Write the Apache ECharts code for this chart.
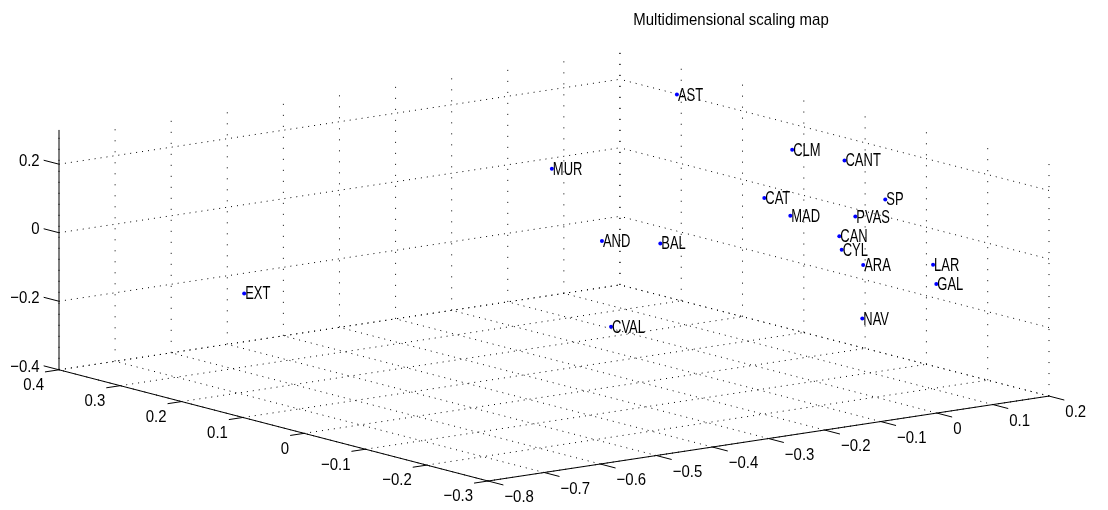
<!DOCTYPE html>
<html><head><meta charset="utf-8">
<script src="https://cdn.jsdelivr.net/npm/echarts@6/dist/echarts.min.js"></script>
<style>html,body{margin:0;padding:0;background:#fff}#chart{width:1108px;height:510px}</style>
</head><body><div id="chart"></div>
<script>
// ---- data (3-D MDS coordinates) ----
const regions = ['AST','CLM','MUR','CAT','MAD','AND','BAL','CVAL','CANT','SP','PVAS','CAN','CYL','ARA','LAR','GAL','NAV','EXT'];
const dim1 = [0.083, 0.070, 0.024, -0.089, 0.012, 0.004, -0.329, -0.089, 0.054, 0.072, -0.036, 0.154, 0.049, -0.022, 0.048, 0.163, -0.111, -0.754];
const dim2 = [0.200, 0.000, 0.350, -0.100, -0.050, 0.250, -0.150, 0.150, -0.100, -0.150, -0.200, 0.000, -0.100, -0.200, -0.250, -0.150, -0.280, 0.140];
const dim3 = [0.277, 0.212, 0.006, 0.157, 0.057, -0.154, 0.107, -0.335, 0.231, 0.136, 0.136, -0.061, -0.028, -0.009, -0.002, -0.133, -0.106, -0.068];

// ---- axes ----
const xTicks = [-0.8, -0.7, -0.6, -0.5, -0.4, -0.3, -0.2, -0.1, 0, 0.1, 0.2];
const xTickLabels = ['\u22120.8','\u22120.7','\u22120.6','\u22120.5','\u22120.4','\u22120.3','\u22120.2','\u22120.1','0','0.1','0.2'];
const yTicks = [-0.3, -0.2, -0.1, 0, 0.1, 0.2, 0.3, 0.4];
const yTickLabels = ['\u22120.3','\u22120.2','\u22120.1','0','0.1','0.2','0.3','0.4'];
const zTicks = [-0.4, -0.2, 0, 0.2];
const zTickLabels = ['\u22120.4','\u22120.2','0','0.2'];
const zLimMax = 0.3;
const titleText = 'Multidimensional scaling map';

// ---- view (projection of one data unit on screen) ----
const X0 = xTicks[0], X1 = xTicks[xTicks.length - 1];
const Y0 = yTicks[0], Y1 = yTicks[yTicks.length - 1];
const Z0 = zTicks[0], Z1 = zLimMax;
const EX = [561, 85], EY = [-613, 159], EZ = [0, 343];
function proj(x, y, z) {
  const u = x - X0, v = y - Y0, w = z - Z0;
  return [u * EX[0] + v * EY[0] + w * EZ[0], u * EX[1] + v * EY[1] + w * EZ[1]];
}
const pxMin = proj(X0, Y1, Z0)[0], pxMax = proj(X1, Y0, Z0)[0];
const pyMax = proj(X1, Y1, Z1)[1];

const FONT = '"Liberation Sans", Helvetica, Arial, sans-serif';
const TICK = 0.025;

// grid segments [x1,y1,z1,x2,y2,z2,vertical]
const gridSegs = [];
xTicks.forEach(x => { gridSegs.push([x, Y0, Z0, x, Y1, Z0, 0]); gridSegs.push([x, Y1, Z0, x, Y1, Z1, 1]); });
yTicks.forEach(y => { gridSegs.push([X0, y, Z0, X1, y, Z0, 0]); gridSegs.push([X1, y, Z0, X1, y, Z1, 1]); });
zTicks.forEach(z => { gridSegs.push([X0, Y1, z, X1, Y1, z, 0]); gridSegs.push([X1, Y0, z, X1, Y1, z, 0]); });

// axis lines and ticks [x1,y1,z1,x2,y2,z2]
const axisSegs = [
  [X0, Y1, Z0, X0, Y1, Z1],
  [X0, Y0, Z0, X0, Y1, Z0],
  [X0, Y0, Z0, X1, Y0, Z0]
];
xTicks.forEach(x => axisSegs.push([x, Y0, Z0, x, Y0 - TICK, Z0]));
yTicks.forEach(y => axisSegs.push([X0, y, Z0, X0 - TICK, y, Z0]));
zTicks.forEach(z => axisSegs.push([X0, Y1, z, X0, Y1 + TICK, z]));

function segItem(api, dash) {
  const a = api.coord(proj(api.value(0), api.value(1), api.value(2)));
  const b = api.coord(proj(api.value(3), api.value(4), api.value(5)));
  return { type: 'line', shape: { x1: a[0], y1: a[1], x2: b[0], y2: b[1] },
    style: { stroke: '#000', lineWidth: 1, lineDash: dash } };
}
function textEl(x, y, text, align, vAlign, size, sx) {
  return { type: 'text', x: x, y: y, scaleX: sx, style: { text: text, fill: '#000', fontSize: size,
    fontFamily: FONT, align: align, verticalAlign: vAlign } };
}

const chart = echarts.init(document.getElementById('chart'), null, { renderer: 'canvas' });
chart.setOption({
  animation: false,
  backgroundColor: '#fff',
  grid: { left: 59, right: 59, top: 45, bottom: 29 },
  xAxis: { type: 'value', min: pxMin, max: pxMax, show: false },
  yAxis: { type: 'value', min: 0, max: pyMax, show: false },
  graphic: [{ type: 'text', x: 731, y: 20, scaleX: 0.88,
    style: { text: titleText, fill: '#000', fontSize: 17, fontFamily: FONT, align: 'center', verticalAlign: 'middle' } }],
  series: [
    { type: 'custom', silent: true, clip: false, data: gridSegs,
      renderItem: (p, api) => segItem(api, api.value(6) ? [1, 10] : [1, 5]) },
    { type: 'custom', silent: true, clip: false, data: axisSegs,
      renderItem: (p, api) => segItem(api, null) },
    { type: 'custom', silent: true, clip: false, data: xTicks.map(v => [v]),
      renderItem: (p, api) => { const c = api.coord(proj(api.value(0), Y0 - TICK, Z0));
        return textEl(c[0] + 1, c[1] + 4, xTickLabels[p.dataIndex], 'left', 'top', 17, 0.88); } },
    { type: 'custom', silent: true, clip: false, data: yTicks.map(v => [v]),
      renderItem: (p, api) => { const c = api.coord(proj(X0 - TICK, api.value(0), Z0));
        return textEl(c[0] - 1, c[1] + 5, yTickLabels[p.dataIndex], 'right', 'top', 17, 0.88); } },
    { type: 'custom', silent: true, clip: false, data: zTicks.map(v => [v]),
      renderItem: (p, api) => { const c = api.coord(proj(X0, Y1 + TICK, api.value(0)));
        return textEl(c[0] - 4, c[1] + 1, zTickLabels[p.dataIndex], 'right', 'middle', 17, 0.88); } },
    { type: 'custom', name: 'regions', clip: false,
      data: regions.map((r, i) => [dim1[i], dim2[i], dim3[i]]),
      renderItem: (p, api) => {
        const c = api.coord(proj(api.value(0), api.value(1), api.value(2)));
        return { type: 'group', children: [
          { type: 'circle', shape: { cx: c[0], cy: c[1], r: 2 }, style: { fill: '#0000ff' } },
          textEl(c[0] + 1, c[1] + 1, regions[p.dataIndex], 'left', 'middle', 18, 0.72)
        ] };
      } }
  ]
});
</script></body></html>
